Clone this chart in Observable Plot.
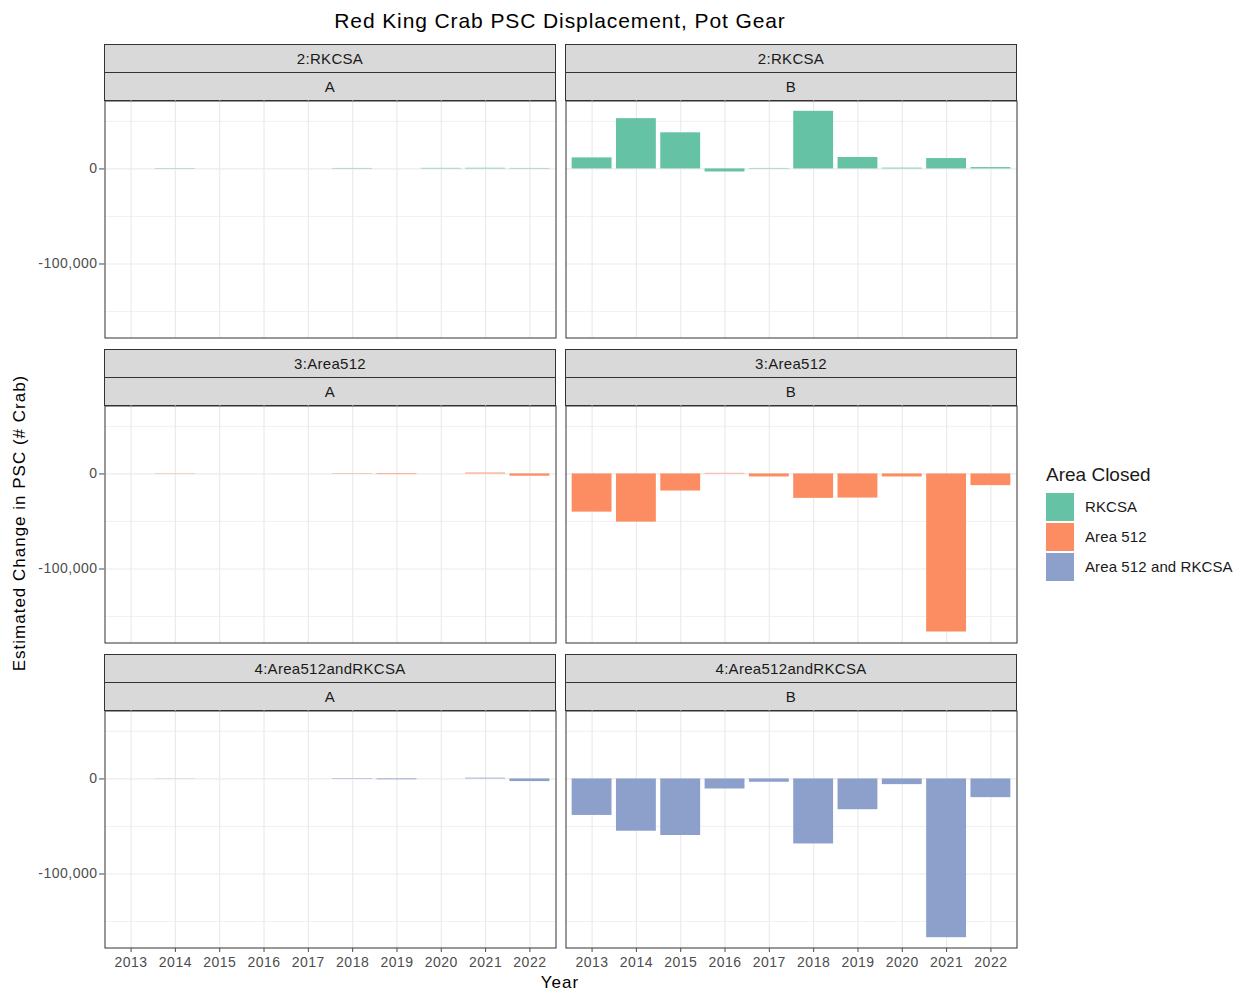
<!DOCTYPE html>
<html>
<head>
<meta charset="utf-8">
<script src="https://cdn.jsdelivr.net/npm/d3@7"></script>
<script src="https://cdn.jsdelivr.net/npm/@observablehq/plot@0.6"></script>
<style>
  body { margin: 0; background: #fff; font-family: "Liberation Sans", Arial, sans-serif; }
  #chart { position: relative; width: 1241px; height: 993px; background: #fff; }
  .abs { position: absolute; white-space: nowrap; }
  .strip {
    position: absolute; box-sizing: border-box; background: #D9D9D9;
    border: 1px solid #333; font-size: 15px; letter-spacing: 0.3px; color: #1A1A1A;
    display: flex; align-items: center; justify-content: center;
  }
  .key { position: absolute; width: 28px; height: 28px; }
  .keylabel { position: absolute; font-size: 15px; color: #1A1A1A; line-height: 28px; letter-spacing: 0.1px; }
</style>
</head>
<body>
<div id="chart"></div>
<script>
// Estimated change in red king crab PSC by year, per closure scenario and variant
const years = [2013, 2014, 2015, 2016, 2017, 2018, 2019, 2020, 2021, 2022];

const rkcsaA    = [0, 400, 0, 0, 0, 500, 0, 600, 700, 500];
const rkcsaB    = [11600, 52900, 38000, -3200, 500, 60600, 12000, 800, 10900, 1400];
const area512A  = [0, 300, 0, 0, 0, -400, -700, 0, 900, -2400];
const area512B  = [-40200, -50700, -18000, 600, -3200, -25700, -25400, -3200, -166300, -12300];
const bothA     = [0, -200, 0, 0, 0, -500, -900, 0, 800, -2800];
const bothB     = [-38400, -55000, -59500, -10600, -3500, -68400, -32400, -6000, -167000, -19700];

const rowLabels = ["2:RKCSA", "3:Area512", "4:Area512andRKCSA"];
const colLabels = ["A", "B"];
const legendLabels = ["RKCSA", "Area 512", "Area 512 and RKCSA"];
const palette = ["#66C2A5", "#FC8D62", "#8DA0CB"];

const majorBreaks = [0, -100000];
const minorBreaks = [50000, -50000, -150000];

const series = [[rkcsaA, rkcsaB], [area512A, area512B], [bothA, bothB]];

// Shared y scale with 5% padding on each side of the data range
const allValues = series.flat(2);
const [lo, hi] = d3.extent(allValues);
const pad = 0.05 * (hi - lo);
const yDomain = [lo - pad, hi + pad];

const fmt = d => d3.format(",")(d).replace("\u2212", "-");

const chart = document.getElementById("chart");

function addDiv(cls, style, text) {
  const el = document.createElement("div");
  el.className = cls;
  Object.assign(el.style, style);
  if (text != null) el.textContent = text;
  chart.appendChild(el);
  return el;
}

// Title and axis titles
addDiv("abs", {left: "0px", width: "1120px", top: "9px", textAlign: "center", fontSize: "21px",
  letterSpacing: "0.9px", color: "#000"}, "Red King Crab PSC Displacement, Pot Gear");
addDiv("abs", {left: "0px", width: "1120px", top: "973px", textAlign: "center", fontSize: "17px",
  letterSpacing: "1px", color: "#000"}, "Year");
addDiv("abs", {left: "20px", top: "523px", fontSize: "17px", letterSpacing: "1px", color: "#000",
  transform: "translate(-50%, -50%) rotate(-90deg)"}, "Estimated Change in PSC (# Crab)");

const colX = [104, 565];
const panelW = 452;
const panelH = 238;

function panel(values, color, r, c) {
  const data = years.map((year, i) => ({year, value: values[i]}));
  const left = c === 0;
  const bottom = r === 2;
  const marks = [
    Plot.gridX({stroke: "#EBEBEB", strokeOpacity: 1, strokeWidth: 1.2}),
    Plot.ruleY(minorBreaks, {stroke: "#EBEBEB", strokeWidth: 0.7}),
    Plot.ruleY(majorBreaks, {stroke: "#EBEBEB", strokeWidth: 1.2}),
    Plot.barY(data, {x: "year", y: "value", fill: color}),
    Plot.frame({stroke: "#333", strokeWidth: 1, inset: 0.5})
  ];
  if (left) {
    marks.push(Plot.axisY({ticks: majorBreaks, tickFormat: fmt, tickSize: 5, tickPadding: 2,
      fontSize: 14, color: "#4D4D4D", label: null}));
  }
  if (bottom) {
    marks.push(Plot.axisX({tickSize: 4, tickPadding: 5, fontSize: 14, color: "#4D4D4D",
      tickFormat: d => String(d), label: null}));
  }
  const svg = Plot.plot({
    width: (left ? colX[0] : 0) + panelW,
    height: panelH + (bottom ? 40 : 0),
    marginLeft: left ? colX[0] : 0,
    marginRight: 0,
    marginTop: 0,
    marginBottom: bottom ? 40 : 0,
    x: {type: "band", domain: years, paddingInner: 0.1, paddingOuter: 0.15, round: false,
        ...(bottom ? {} : {axis: null})},
    y: {domain: yDomain, ...(left ? {} : {axis: null})},
    style: {fontFamily: "Liberation Sans, Arial, sans-serif", background: "transparent",
            overflow: "visible", letterSpacing: "0.5px"},
    marks
  });
  svg.style.position = "absolute";
  svg.style.left = (left ? 0 : colX[1]) + "px";
  svg.style.top = (44 + 305 * r + 56) + "px";
  svg.style.maxWidth = "none";
  chart.appendChild(svg);
}

rowLabels.forEach((rowLabel, r) => {
  colLabels.forEach((colLabel, c) => {
    const top = 44 + 305 * r;
    addDiv("strip", {left: colX[c] + "px", top: top + "px", width: panelW + "px", height: "29px"}, rowLabel);
    addDiv("strip", {left: colX[c] + "px", top: (top + 28) + "px", width: panelW + "px", height: "29px"}, colLabel);
    panel(series[r][c], palette[r], r, c);
  });
});

// Legend
addDiv("abs", {left: "1046px", top: "464px", fontSize: "19px", color: "#1A1A1A"}, "Area Closed");
legendLabels.forEach((label, i) => {
  const top = 493 + 30 * i;
  addDiv("key", {left: "1046px", top: top + "px", background: palette[i]});
  addDiv("keylabel", {left: "1085px", top: top + "px"}, label);
});
</script>
</body>
</html>
